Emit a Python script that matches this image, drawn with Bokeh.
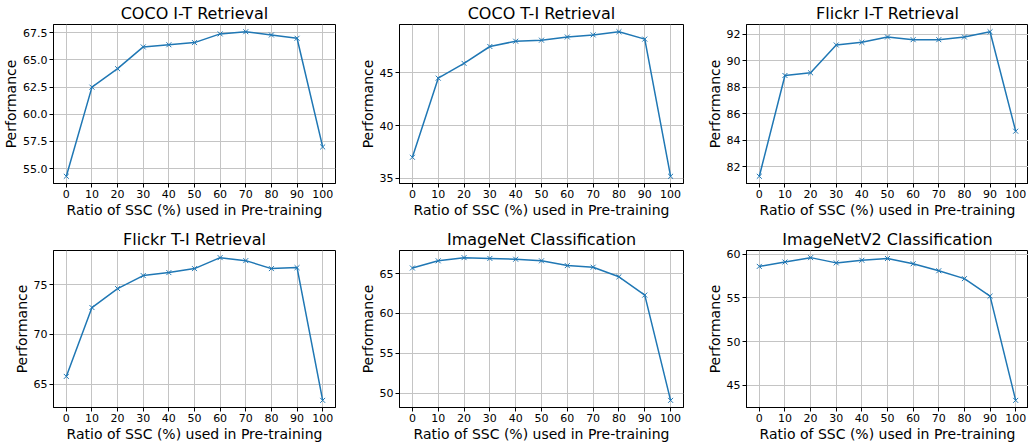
import numpy as np
from bokeh.plotting import figure
from bokeh.layouts import gridplot
from bokeh.models import FixedTicker, Range1d, NumeralTickFormatter
from bokeh.embed import file_html
from bokeh.resources import INLINE

ratios = [0, 10, 20, 30, 40, 50, 60, 70, 80, 90, 100]
x_ticks = [0, 10, 20, 30, 40, 50, 60, 70, 80, 90, 100]

coco_it = [54.3, 62.5, 64.2, 66.2, 66.4, 66.6, 67.4, 67.6, 67.3, 67.0, 57.0]
coco_ti = [37.0, 44.5, 45.9, 47.5, 48.0, 48.1, 48.4, 48.6, 48.9, 48.2, 35.2]
flickr_it = [81.3, 88.9, 89.1, 91.2, 91.4, 91.8, 91.6, 91.6, 91.8, 92.2, 84.7]
flickr_ti = [65.8, 72.7, 74.6, 75.9, 76.2, 76.6, 77.7, 77.4, 76.6, 76.7, 63.4]
imagenet = [65.7, 66.6, 67.0, 66.9, 66.8, 66.6, 66.0, 65.8, 64.6, 62.3, 49.1]
imagenet_v2 = [58.6, 59.1, 59.6, 59.0, 59.3, 59.5, 58.9, 58.1, 57.2, 55.2, 43.3]

titles = ["COCO I-T Retrieval", "COCO T-I Retrieval", "Flickr I-T Retrieval",
          "Flickr T-I Retrieval", "ImageNet Classification", "ImageNetV2 Classification"]
series = [coco_it, coco_ti, flickr_it, flickr_ti, imagenet, imagenet_v2]
y_ticks = [
    [55.0, 57.5, 60.0, 62.5, 65.0, 67.5],
    [35, 40, 45],
    [82, 84, 86, 88, 90, 92],
    [65, 70, 75],
    [50, 55, 60, 65],
    [45, 50, 55, 60],
]
y_formats = ["0.0", "0", "0", "0", "0", "0"]

FONT = "DejaVu Sans"
LINE = "#1f77b4"
widths = [346, 347, 335]
rights = [11, 10, 0]
heights = [226, 218]
bottoms = [43, 34]


def make(i):
    ys = series[i]
    col = i % 3
    row = i // 3
    lo, hi = min(ys), max(ys)
    m = (hi - lo) * 0.05
    p = figure(width=widths[col], height=heights[row], output_backend="svg", toolbar_location=None,
               x_range=Range1d(-5, 105), y_range=Range1d(lo - m, hi + m),
               min_border_left=53, min_border_right=rights[col],
               min_border_top=24, min_border_bottom=bottoms[row])
    p.title.text = titles[i]
    p.title.align = "center"
    p.title.text_font = FONT
    p.title.text_font_size = "16px"
    p.title.text_font_style = "normal"
    p.title.text_color = "black"
    p.title.offset = 0
    p.title.standoff = 3
    p.line(ratios, ys, line_color=LINE, line_width=1.5)
    p.scatter(ratios, ys, marker="x", size=7, line_color=LINE, line_width=1)
    p.xaxis.ticker = FixedTicker(ticks=x_ticks)
    p.yaxis.ticker = FixedTicker(ticks=y_ticks[i])
    p.yaxis.formatter = NumeralTickFormatter(format=y_formats[i])
    p.xaxis.axis_label = "Ratio of SSC (%) used in Pre-training"
    p.yaxis.axis_label = "Performance"
    for ax in (p.xaxis, p.yaxis):
        ax.axis_label_text_font = FONT
        ax.axis_label_text_font_size = "14px"
        ax.axis_label_text_font_style = "normal"
        ax.axis_label_text_color = "black"
        ax.major_label_text_font = FONT
        ax.major_label_text_font_size = "11px"
        ax.major_label_text_color = "black"
        ax.major_tick_out = 4
        ax.major_tick_in = 0
        ax.minor_tick_out = 0
        ax.minor_tick_in = 0
        ax.axis_line_color = "black"
        ax.major_tick_line_color = "black"
        ax.major_label_standoff = 2
        ax.axis_label_standoff = 1
    p.outline_line_color = "black"
    p.outline_line_width = 1
    p.grid.grid_line_color = "#c4c4c4"
    p.grid.grid_line_width = 1
    p.background_fill_color = "white"
    p.border_fill_color = "white"
    return p


figs = [make(i) for i in range(6)]
grid = gridplot([figs[0:3], figs[3:6]], toolbar_location=None)
open("out.html", "w").write(file_html(grid, INLINE))
